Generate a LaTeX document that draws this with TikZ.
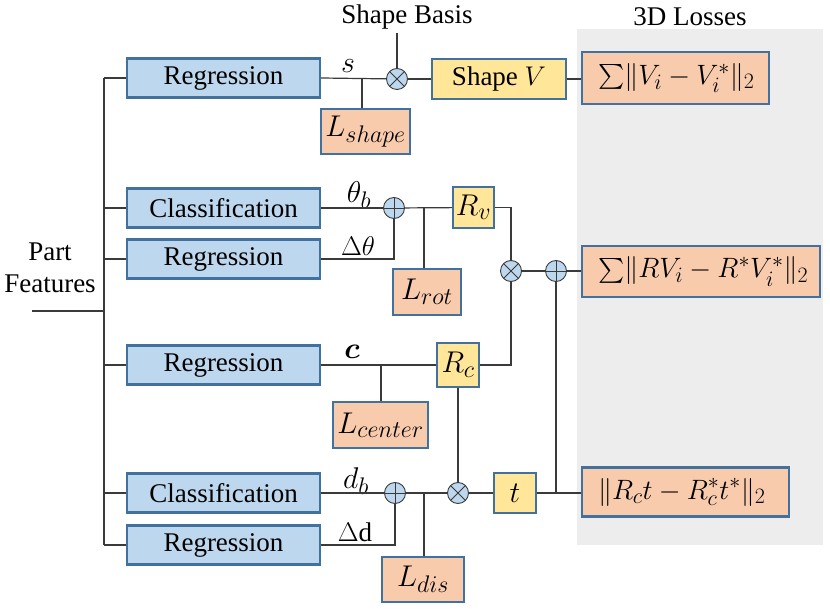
\RequirePackage{fix-cm}
\documentclass[tikz,border=0pt]{standalone}
\usepackage{amsmath,bm}
\usepackage{fontspec}
\setmainfont{Liberation Serif}
\DeclareMathSizes{27}{27}{22}{17}
\DeclareMathSizes{28}{28}{22}{17}
\DeclareMathSizes{30}{30}{24}{18}
\usetikzlibrary{calc}
\definecolor{regfill}{HTML}{BDD7EE}
\definecolor{lossfill}{HTML}{F8CBAD}
\definecolor{outfill}{HTML}{FFE699}
\definecolor{rim}{HTML}{41719C}
\definecolor{wire}{HTML}{3A3A3A}
\definecolor{panel}{HTML}{EDEDED}
\tikzset{
  net/.style     = {draw=rim, line width=2.2pt, fill=regfill, inner sep=0pt,
                    minimum width=193pt, minimum height=39pt},
  lossbox/.style = {draw=rim, line width=2.2pt, fill=lossfill, inner sep=0pt},
  total/.style   = {lossbox, align=left, text width=#1,
                    font=\fontsize{28}{32}\selectfont},
  outbox/.style  = {draw=rim, line width=2.2pt, fill=outfill, inner sep=0pt},
  sym/.style     = {font=\fontsize{30}{36}\selectfont},
  opnode/.style  = {draw=wire, line width=0.9pt, fill=regfill, circle,
                    minimum size=21pt, inner sep=0pt},
  mul/.style     = {opnode, path picture={
                    \draw[wire, line width=0.9pt]
                      (path picture bounding box.north west) -- (path picture bounding box.south east)
                      (path picture bounding box.north east) -- (path picture bounding box.south west);}},
  add/.style     = {opnode, path picture={
                    \draw[wire, line width=0.9pt]
                      (path picture bounding box.north) -- (path picture bounding box.south)
                      (path picture bounding box.west) -- (path picture bounding box.east);}},
  e/.style       = {draw=wire, line width=1.2pt},
  lbl/.style     = {inner sep=0pt}
}

\begin{document}
\begin{tikzpicture}[x=1pt,y=-1pt,every node/.style={font=\fontsize{27}{32}\selectfont}]
  \useasboundingbox (0,0) rectangle (830,609);
  \node[fill=panel, inner sep=0pt, minimum width=246pt, minimum height=516pt] (pnl) at (700,287) {};
  \node (losses) at (690,17) {3D Losses};

  % ---- left: features and heads ----
  \node[align=center] (pf) at (50,268) {Part\\Features};
  \coordinate (top) at (104,78);
  \coordinate (bot) at (104,545);
  \coordinate (feed) at (32,311);
  \node[net] (reg1) at (223.5,78) {Regression};
  \node[net] (cls1) at (223.5,208) {Classification};
  \node[net] (reg2) at (223.5,259) {Regression};
  \node[net] (reg3) at (223.5,365) {Regression};
  \node[net] (cls2) at (223.5,493) {Classification};
  \node[net] (reg4) at (223.5,545) {Regression};
  \draw[e] (top) -- (bot);
  \draw[e] (feed) -- (feed -| top);
  \foreach \n in {reg1,cls1,reg2,reg3,cls2,reg4}
    \draw[e] (\n.west -| top) -- (\n.west);

  % ---- shape ----
  \node[mul] (m1) at (397,79) {};
  \node (basis) at (407,17) {Shape Basis};
  \node[outbox, minimum width=134pt, minimum height=40pt] (shp) at (499,79) {Shape $V$};
  \node[lossbox, sym, minimum width=89pt, minimum height=45pt] (lshape) at (365.5,131.5) {$L_{shape}$};
  \node[total=187pt, minimum height=52pt] (loss1) at (675.5,78)
    {\hspace*{16pt}\mbox{$\sum\!\|V_i-V_i^*\|_2$}};
  \coordinate (j1) at (362,79);
  \node[lbl, sym] at (348,66) {$s$};
  \draw[e] (reg1.east) -- (m1);
  \draw[e] (m1) -- (m1 |- basis.south);
  \draw[e] (m1) -- (shp);
  \draw[e] (j1) -- (j1 |- lshape.north);
  \draw[e] (shp.east) -- (shp.east -| loss1.west);

  % ---- rotation ----
  \node[add] (p1) at (394,208) {};
  \node[outbox, sym, minimum width=41pt, minimum height=41pt] (rv) at (473.5,207.5) {$R_v$};
  \node[lossbox, sym, minimum width=68pt, minimum height=46pt] (lrot) at (427,292) {$L_{rot}$};
  \coordinate (j2) at (424,208);
  \node[lbl, sym] at (359,195) {$\theta_b$};
  \node[lbl] at (358,246) {$\Delta\theta$};
  \draw[e] (cls1.east) -- (p1);
  \draw[e] (reg2.east) -| (p1);
  \draw[e] (p1) -- (rv);
  \draw[e] (j2) -- (j2 |- lrot.north);

  % ---- center ----
  \node[outbox, sym, minimum width=42pt, minimum height=44pt] (rc) at (458,365) {$R_c$};
  \node[lossbox, sym, minimum width=95pt, minimum height=46pt] (lcen) at (380.5,425) {$L_{center}$};
  \coordinate (j3) at (381,365);
  \node[lbl, sym] at (352,352) {$\bm{c}$};
  \draw[e] (reg3.east) -- (rc);
  \draw[e] (j3) -- (j3 |- lcen.north);

  % ---- combine R and V ----
  \node[mul] (m2) at (511,271) {};
  \node[add] (p2) at (556,271) {};
  \node[total=238pt, minimum height=51pt] (loss2) at (701,271.5)
    {\hspace*{16pt}\mbox{$\sum\!\|RV_i-R^*V_i^*\|_2$}};
  \draw[e] (rv.east) -| (m2);
  \draw[e] (rc.east) -| (m2);
  \draw[e] (m2) -- (p2);
  \draw[e] (p2) -- (p2 -| loss2.west);

  % ---- distance ----
  \node[add] (p3) at (395,493) {};
  \node[mul] (m3) at (458,493) {};
  \node[outbox, sym, minimum width=42pt, minimum height=40pt] (tb) at (515,493) {$t$};
  \node[lossbox, sym, minimum width=82pt, minimum height=45pt] (ldis) at (423,579.5) {$L_{dis}$};
  \node[total=207pt, minimum height=49pt] (loss3) at (685.5,492)
    {\hspace*{16pt}\mbox{$\|R_ct-R_c^*t^*\|_2$}};
  \coordinate (j4) at (424,493);
  \node[lbl, sym] at (356,481) {$d_b$};
  \node[lbl] at (355,532) {$\Delta$d};
  \draw[e] (cls2.east) -- (p3);
  \draw[e] (reg4.east) -| (p3);
  \draw[e] (p3) -- (m3);
  \draw[e] (rc) -- (m3);
  \draw[e] (m3) -- (tb);
  \draw[e] (j4) -- (j4 |- ldis.north);
  \draw[e] (tb.east) -- (tb.east -| loss3.west);
  \draw[e] (p2) -- (p2 |- tb.east);
\end{tikzpicture}
\end{document}
